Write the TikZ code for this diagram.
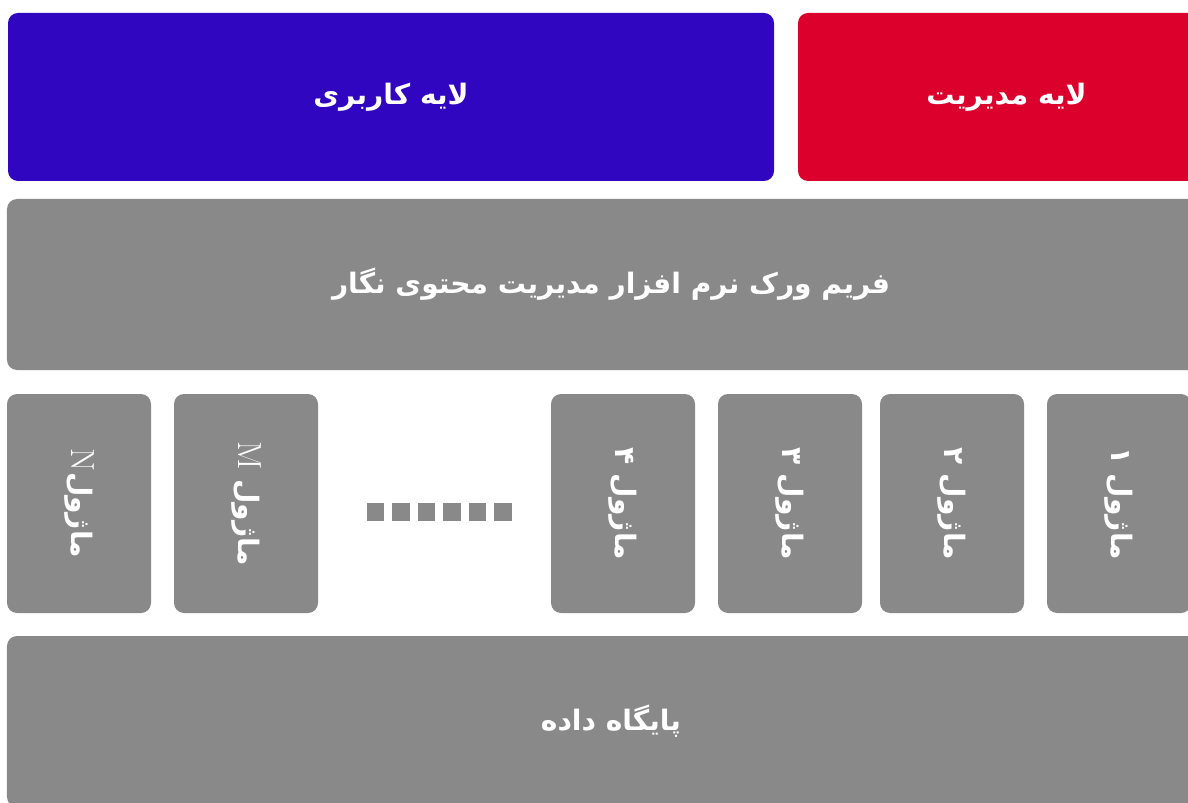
\documentclass[tikz,border=0pt]{standalone}
\usepackage{fontspec}
\TeXXeTstate=1
\newfontfamily\arabicfont[Script=Arabic]{DejaVu Sans}
\definecolor{userblue}{HTML}{3006C0}
\definecolor{adminred}{HTML}{DC002C}
\definecolor{layergray}{HTML}{898989}
\begin{document}
\begin{tikzpicture}[
    layer/.style={fill=#1,rounded corners=0.2cm,text=white,font=\arabicfont\bfseries\fontsize{16}{19}\selectfont},
    modbox/.style={layer=layergray,rotate=-90,minimum width=4.38cm,minimum height=2.88cm},
    dotbox/.style={fill=layergray,minimum size=0.35cm,inner sep=0pt}]
  \useasboundingbox (0,0) rectangle (23.76,16.04);
  \clip (0,0) rectangle (23.76,16.04);
%%%
  \node[layer=userblue,minimum width=15.32cm,minimum height=3.36cm] (user) at (7.82,14.10) {\beginR لایه کاربری\endR};
  \node[layer=adminred,minimum width=8.34cm,minimum height=3.36cm] (admin) at (20.13,14.10) {\beginR لایه مدیریت\endR};
%%%
  \node[layer=layergray,minimum width=24.16cm,minimum height=3.42cm] (framework) at (12.22,10.35) {\beginR فریم ورک نرم افزار مدیریت محتوی نگار\endR};
%%%
  \node[modbox] (modN) at (1.58,5.97) {\beginR ماژول{\rmfamily\mdseries\fontsize{19}{20}\selectfont N}\endR};
  \node[modbox] (modM) at (4.92,5.97) {\beginR ماژول {\rmfamily\mdseries\fontsize{19}{20}\selectfont M}\endR};
  \node[modbox] (mod4) at (12.46,5.97) {\beginR ماژول ۴\endR};
  \node[modbox] (mod3) at (15.80,5.97) {\beginR ماژول ۳\endR};
  \node[modbox] (mod2) at (19.04,5.97) {\beginR ماژول ۲\endR};
  \node[modbox] (mod1) at (22.38,5.97) {\beginR ماژول ۱\endR};
  \foreach \i in {0,...,5}
    \node[dotbox] (dot\i) at ({7.51+\i*0.51},5.80) {};
%%%
  \node[layer=layergray,minimum width=24.16cm,minimum height=3.42cm] (database) at (12.22,1.61) {\beginR پایگاه داده\endR};
%%%
\end{tikzpicture}
\end{document}
